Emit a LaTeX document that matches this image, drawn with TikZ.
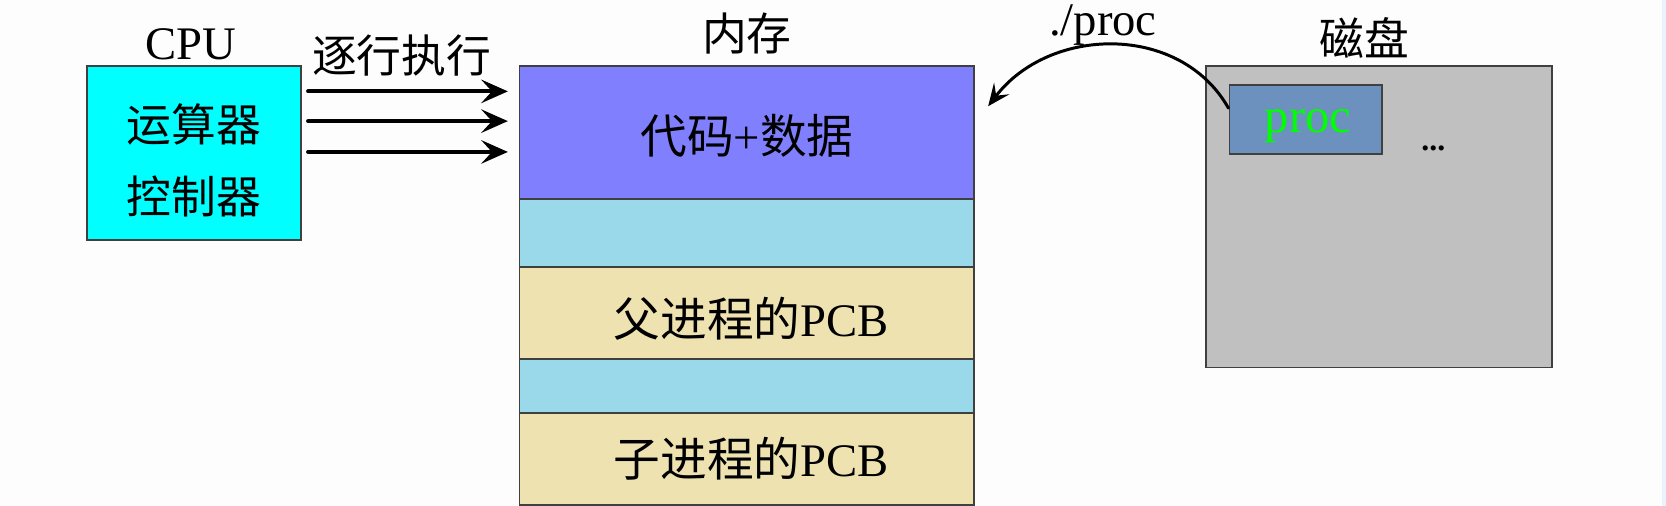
\documentclass[tikz,border=0pt]{standalone}
\usepackage{fontspec}
\setmainfont{Liberation Serif}
\newfontfamily\cjk{Noto Sans CJK SC}
\usetikzlibrary{arrows.meta, calc}

\definecolor{pagewhite}{HTML}{FDFDFD}
\definecolor{edgeblue}{HTML}{EAF2FE}
\definecolor{cpucyan}{HTML}{00FFFF}
\definecolor{codeblue}{HTML}{8080FF}
\definecolor{freeblue}{HTML}{99D9EA}
\definecolor{pcbwheat}{HTML}{EEE3B0}
\definecolor{diskgrey}{HTML}{C0C0C0}
\definecolor{procblue}{HTML}{6D91BF}
\definecolor{procgreen}{HTML}{00FF00}

\begin{document}
\begin{tikzpicture}[x=0.02cm, y=-0.02cm, line cap = round,
		box/.style={draw=black!75, line width=0.9pt, inner sep=0pt},
		lbl/.style={inner sep=0pt, font=\fontsize{25}{30}\selectfont},
		cjklbl/.style={inner sep=0pt, font=\cjk\fontsize{24}{30}\selectfont},
		fatarrow/.style={line width=2.2pt, -{Stealth[length=5mm, width=4.4mm, inset=2mm]}}]
%		\draw (0,0) grid[step=100] (1568,476);
		
		\fill[pagewhite] (0,0) rectangle (1568,476);
		\fill[edgeblue] (1564,0) rectangle (1568,476);
		\useasboundingbox (0,0) rectangle (1568,476);
		
		% CPU
		\node[box, fill=cpucyan, minimum width=4.02cm, minimum height=3.28cm] (cpu) at (182.5,144) {};
		\node[cjklbl, align=center, font=\cjk\fontsize{24}{38.7}\selectfont] (cpuunits) at (182.5,151) {运算器\\控制器};
		\node[lbl] (cpulbl) at (180,42) {CPU};
		\node[cjklbl] (execlbl) at (378,52) {逐行执行};
		
		% memory
		\node[box, fill=codeblue, minimum width=8.56cm, minimum height=2.5cm] (code) at (703,124.5) {};
		\node[box, fill=freeblue, minimum width=8.56cm, minimum height=1.28cm] (free1) at (703,219) {};
		\node[box, fill=pcbwheat, minimum width=8.56cm, minimum height=1.74cm] (parent) at (703,294.5) {};
		\node[box, fill=freeblue, minimum width=8.56cm, minimum height=1.02cm] (free2) at (703,363.5) {};
		\node[box, fill=pcbwheat, minimum width=8.56cm, minimum height=1.72cm] (child) at (703,432) {};
		\node[lbl] (codetxt) at (703,128) {{\cjk 代码}+{\cjk 数据}};
		\node[lbl] (parenttxt) at (707,300) {{\cjk 父进程的}PCB};
		\node[lbl] (childtxt) at (707,432) {{\cjk 子进程的}PCB};
		\node[cjklbl] (memlbl) at (703,32) {内存};
		
		% disk
		\node[box, fill=diskgrey, minimum width=6.52cm, minimum height=5.68cm] (disk) at (1298,204) {};
		\node[box, fill=procblue, minimum width=2.88cm, minimum height=1.3cm] (proc) at (1229,112.5) {};
		\node[lbl, text=procgreen, font=\fontsize{26}{30}\selectfont] (proctxt) at (1231,119) {proc};
		\node[inner sep=0pt, font=\bfseries\fontsize{17}{20}\selectfont] (more) at (1349,140) {...};
		\node[cjklbl] (disklbl) at (1284,36) {磁盘};
		\node[lbl] (loadlbl) at (1038,24) {./proc};
		
		\coordinate (go1) at (290,86);
		\coordinate (go2) at (290,114);
		\coordinate (go3) at (290,143);
		\coordinate (in1) at (478,86);
		\coordinate (in2) at (478,114);
		\coordinate (in3) at (478,143);
		\coordinate (load) at ($(proc.north west)!0.34!(proc.south west)$);
		\coordinate (drop) at (930,100);
		
		\draw[fatarrow] (go1) -- (in1);
		\draw[fatarrow] (go2) -- (in2);
		\draw[fatarrow] (go3) -- (in3);
		\draw[line width=1.6pt, -{Stealth[length=4.2mm, width=3.6mm, inset=1.7mm]}] (load) .. controls +(-45,-80) and +(58,-76) .. (drop);
	\end{tikzpicture}
\end{document}
